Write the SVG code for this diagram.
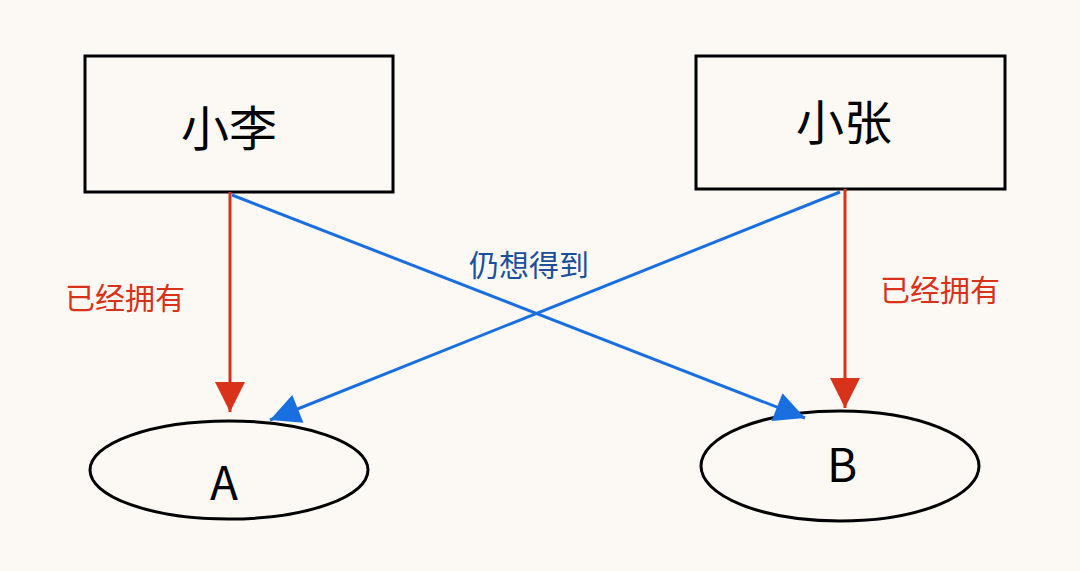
<svg xmlns="http://www.w3.org/2000/svg" width="1080" height="571" viewBox="0 0 1080 571">
<style>
.box{fill:none;stroke:#000;stroke-width:3}
.t{font-family:"Noto Sans CJK SC","Liberation Sans",sans-serif;text-anchor:middle}
.red{stroke:#d9321a;stroke-width:3;fill:none}
.blue{stroke:#1a6fe0;stroke-width:3;fill:none}
</style>
<defs>
<marker id="mr" viewBox="0 0 10 10" refX="10" refY="5" markerWidth="8" markerHeight="10" markerUnits="userSpaceOnUse" orient="auto" style="overflow:visible"><path d="M0,0L10,5L0,10z" fill="#d9321a" transform="scale(1)"/></marker>
<marker id="mb" viewBox="0 0 10 10" refX="10" refY="5" markerWidth="36" markerHeight="30" markerUnits="userSpaceOnUse" orient="auto"><path d="M0,0L10,5L0,10z" fill="#1a6fe0"/></marker>
<marker id="mr2" viewBox="0 0 10 10" refX="10" refY="5" markerWidth="40" markerHeight="30" markerUnits="userSpaceOnUse" orient="auto"><path d="M0,0L10,5L0,10z" fill="#d9321a"/></marker>
</defs>
<rect width="1080" height="571" fill="#fcf9f4"/>
<g id="n1"><rect class="box" x="85" y="56" width="308" height="136"/><text class="t" x="229" y="146" font-size="48">小李</text></g>
<g id="n2"><rect class="box" x="696" y="56" width="309" height="133"/><text class="t" x="844" y="140" font-size="48">小张</text></g>
<g id="nA"><ellipse class="box" cx="229" cy="470" rx="139" ry="49"/><text class="t" x="224" y="500" font-size="46">A</text></g>
<g id="nB"><ellipse class="box" cx="840" cy="466" rx="139" ry="55"/><text class="t" x="842" y="482" font-size="46">B</text></g>
<g id="edges">
<line class="red" x1="230" y1="192" x2="230" y2="412" marker-end="url(#mr2)"/>
<line class="red" x1="845" y1="189" x2="845" y2="408" marker-end="url(#mr2)"/>
<line class="blue" x1="232" y1="195" x2="805" y2="418" marker-end="url(#mb)"/>
<line class="blue" x1="840" y1="192" x2="270" y2="420" marker-end="url(#mb)"/>
<text class="t" x="125" y="309" font-size="30" fill="#d9321a">已经拥有</text>
<text class="t" x="940" y="301" font-size="30" fill="#d9321a">已经拥有</text>
<text class="t" x="529" y="276" font-size="30" fill="#1a4f9c">仍想得到</text>
</g>
</svg>
